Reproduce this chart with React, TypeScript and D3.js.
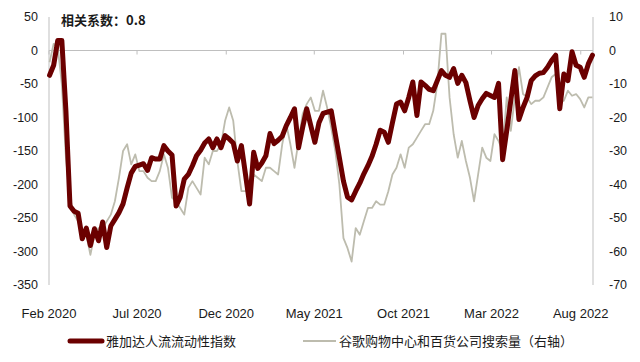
import React from 'react';
import * as d3 from 'd3';

// weekly observations, first week starting 2020-02-02
const startWeek = new Date(2020, 1, 2);

// 雅加达人流流动性指数 (left axis)
const mobility = [
  -37, -22, 15, 15, -90, -232, -240, -243, -281, -265, -291, -266, -284, -256, -294, -262,
  -252, -242, -229, -205, -183, -173, -171, -169, -179, -160, -162, -162, -142, -150, -156, -232,
  -219, -192, -185, -172, -157, -149, -138, -132, -145, -132, -145, -127, -132, -138, -165, -142,
  -185, -229, -152, -176, -168, -157, -124, -139, -134, -128, -112, -100, -87, -145, -115, -87,
  -112, -137, -108, -94, -92, -90, -125, -160, -195, -219, -223, -210, -198, -184, -172, -158,
  -140, -119, -122, -137, -108, -80, -77, -90, -70, -47, -97, -47, -52, -58, -60, -45,
  -30, -37, -40, -27, -49, -37, -48, -75, -100, -82, -72, -64, -67, -70, -49, -163,
  -120, -75, -30, -103, -85, -70, -45, -38, -34, -33, -25, -15, -7, -87, -35, -45,
  -2, -22, -25, -40, -20, -7,
];

// 谷歌购物中心和百货公司搜索量 (right axis)
const mallSearch = [
  -3.5, 2, 1, -10, -32, -44, -49, -51, -56, -55, -61, -55, -53, -53, -51, -49,
  -45, -38, -30, -28, -34, -31, -36, -36, -38, -39, -39, -36, -31, -35, -44, -45,
  -47, -49, -41, -39, -41, -43, -32, -34, -30, -30, -28, -21, -17, -21, -33, -42,
  -42, -41, -37, -38, -39, -35, -35, -36, -37, -28, -22, -28, -35, -27, -19, -16,
  -14, -18, -18, -12, -17, -23, -30, -40, -56, -59, -63, -53, -55, -51, -47, -47,
  -45, -46, -46, -42, -37, -35, -31, -35, -29, -28, -26, -24, -22, -22, -18, -10,
  5, 5, -14, -25, -32, -27, -33, -38, -45, -37, -29, -32, -33, -25, -27, -30,
  -14, -24, -14, -5, -13, -14, -16, -15, -15, -14, -11, -8, -7, -15, -15, -12,
  -13.5, -13, -14.5, -17, -14, -14,
];

const leftTicks = [50, 0, -50, -100, -150, -200, -250, -300, -350];
const rightTicks = [10, 0, -10, -20, -30, -40, -50, -60, -70];
const xTickDates = [
  new Date(2020, 1, 1), new Date(2020, 6, 1), new Date(2020, 11, 1), new Date(2021, 4, 1),
  new Date(2021, 9, 1), new Date(2022, 2, 1), new Date(2022, 7, 1),
];
const xTickLabels = ['Feb 2020', 'Jul 2020', 'Dec 2020', 'May 2021', 'Oct 2021', 'Mar 2022', 'Aug 2022'];

const title = '相关系数：0.8';
const seriesNames = ['雅加达人流流动性指数', '谷歌购物中心和百货公司搜索量（右轴）'];

const W = 640, H = 362;
const plot = { left: 49, right: 593, top: 17, bottom: 285 };
const RED = '#6B0000';
const GREY = '#BDBCAE';
const AXIS = '#BFBFBF';
const FONT = '"Liberation Sans", Arial, sans-serif';

const App = () => {
  const dates = mobility.map((_, i) => d3.timeDay.offset(startWeek, i * 7));

  const x = d3.scaleTime()
    .domain([new Date(2020, 1, 1), new Date(2022, 7, 22)])
    .range([plot.left, plot.right]);
  const yL = d3.scaleLinear().domain([-350, 50]).range([plot.bottom, plot.top]);
  const yR = d3.scaleLinear().domain([-70, 10]).range([plot.bottom, plot.top]);

  const redLine = d3.line<number>()
    .x((_, i) => x(dates[i]))
    .y(d => yL(d));
  const greyLine = d3.line<number>()
    .x((_, i) => x(dates[i]))
    .y(d => yR(d));

  return (
    <svg width={W} height={H} style={{ position: 'absolute', left: 0, top: 0, background: '#fff' }}
      fontFamily={FONT}>
      {/* axes */}
      <line x1={plot.left} x2={plot.left} y1={plot.top} y2={plot.bottom} stroke={AXIS} strokeWidth={1} />
      <line x1={plot.right} x2={plot.right} y1={plot.top} y2={plot.bottom} stroke={AXIS} strokeWidth={1} />
      <line x1={plot.left} x2={plot.right} y1={yL(0)} y2={yL(0)} stroke={AXIS} strokeWidth={1} />
      {xTickDates.map((d, i) => (
        <line key={i} x1={x(d)} x2={x(d)} y1={yL(0)} y2={yL(0) + 4} stroke={AXIS} strokeWidth={1} />
      ))}

      {leftTicks.map(t => (
        <text key={t} x={38} y={yL(t)} dy="0.35em" textAnchor="end" fontSize={12.5} fill="#1a1a1a">{t}</text>
      ))}
      {rightTicks.map(t => (
        <text key={t} x={609} y={yR(t)} dy="0.35em" textAnchor="start" fontSize={12.5} fill="#1a1a1a">{t}</text>
      ))}
      {xTickLabels.map((l, i) => (
        <text key={l} x={x(xTickDates[i])} y={318} textAnchor="middle" fontSize={13} fill="#1a1a1a">{l}</text>
      ))}

      {/* series */}
      <path d={greyLine(mallSearch) ?? ''} fill="none" stroke={GREY} strokeWidth={1.8} strokeLinejoin="round" />
      <path d={redLine(mobility) ?? ''} fill="none" stroke={RED} strokeWidth={5} strokeLinejoin="round" strokeLinecap="round" />

      <text x={61} y={25} fontSize={13} fontWeight="bold" fill="#1a1a1a"
        fontFamily='"Noto Sans CJK SC", sans-serif'>{title}</text>

      {/* legend */}
      <line x1={70} x2={102} y1={341} y2={341} stroke={RED} strokeWidth={5} strokeLinecap="round" />
      <text x={106} y={341} dy="0.35em" fontSize={13} fill="#1a1a1a"
        fontFamily='"Noto Sans CJK SC", sans-serif'>{seriesNames[0]}</text>
      <line x1={303} x2={336} y1={341} y2={341} stroke={GREY} strokeWidth={1.8} />
      <text x={339} y={341} dy="0.35em" fontSize={13} fill="#1a1a1a"
        fontFamily='"Noto Sans CJK SC", sans-serif'>{seriesNames[1]}</text>
    </svg>
  );
};

export default App;
